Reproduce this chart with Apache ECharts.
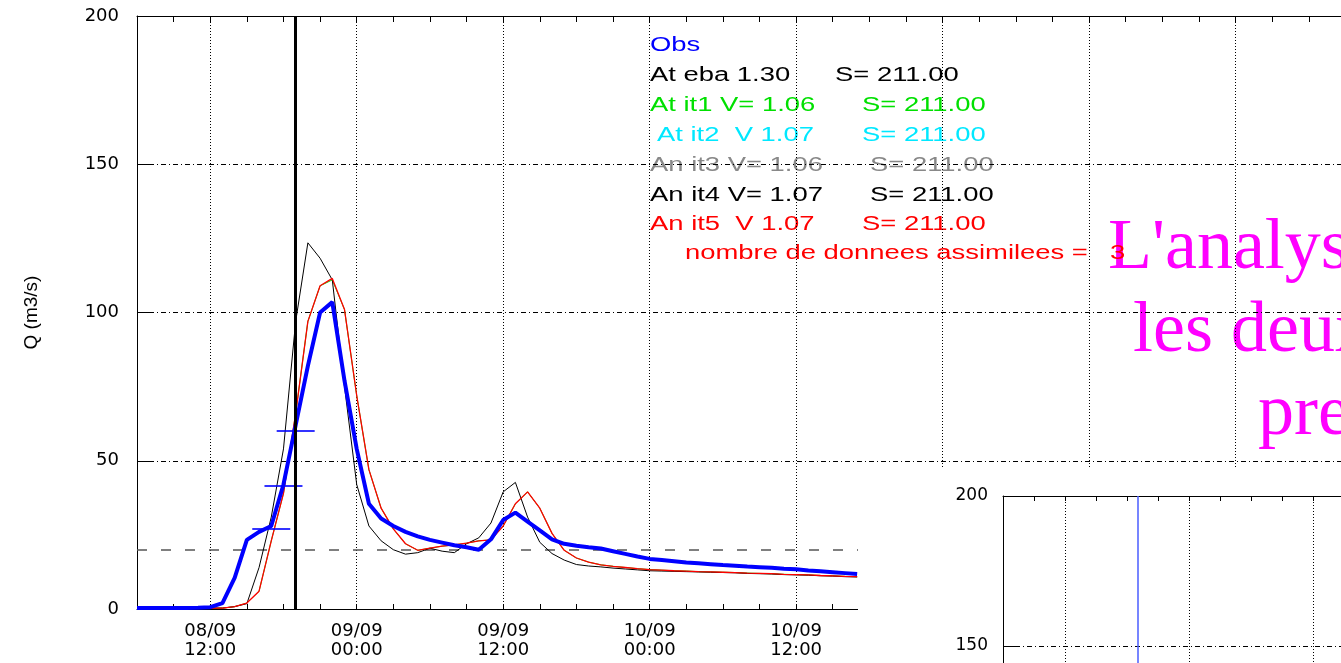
<!DOCTYPE html>
<html><head><meta charset="utf-8">
<script src="https://cdn.jsdelivr.net/npm/echarts@6/dist/echarts.min.js"></script>
<style>html,body{margin:0;padding:0;background:#fff}#c{width:1341px;height:663px}</style>
</head><body><div id="c"></div>
<script>
// hours since 08/09 06:00
const hours = [0,1,2,3,4,5,6,7,8,9,10,11,12,13,14,15,16,17,18,19,20,21,22,23,24,25,26,27,28,29,30,31,32,33,34,35,36,37,38,39,40,41,42,43,44,45,46,47,48,49,50,51,52,53,54,55,56,57,58,59];
const obsValues = [0.3,0.3,0.3,0.3,0.3,0.4,0.6,2.0,10.5,23.3,26.0,28.0,42.0,62.0,82.0,100.0,103.5,77.0,54.0,35.5,30.5,28.0,26.0,24.5,23.3,22.4,21.5,20.8,20.0,23.5,30.0,32.5,29.5,26.5,23.5,22.0,21.3,20.8,20.4,19.5,18.6,17.7,16.9,16.5,16.1,15.7,15.4,15.1,14.8,14.6,14.3,14.1,13.9,13.6,13.4,13.0,12.7,12.4,12.1,11.8];
const atEbaValues = [0.3,0.3,0.3,0.3,0.3,0.3,0.3,0.3,0.8,1.8,14,31,54,97,123.5,118.3,111,75,42,28,23,20,18.5,19,20.5,19.5,19,22,24,29,39.5,42.7,31,22.5,18.7,16.5,15,14.5,14.2,13.8,13.5,13.2,12.9,12.8,12.7,12.6,12.5,12.4,12.3,12.2,12.0,11.9,11.8,11.6,11.5,11.4,11.2,11.1,10.9,10.8];
const atIt1Values = [0.3,0.3,0.3,0.3,0.3,0.3,0.3,0.3,0.8,2.0,6,23,39,66,97,109,111,101,72,47,34,27,22,19.8,20.5,21.2,21.6,22.2,23,23.3,28,35.5,39.5,34,25.5,19.8,17.2,15.8,14.9,14.4,14.0,13.6,13.3,13.1,12.9,12.8,12.6,12.5,12.4,12.3,12.1,12.0,11.9,11.7,11.6,11.5,11.3,11.2,11.0,10.9];
const anIt5Values = [0.3,0.3,0.3,0.3,0.3,0.3,0.3,0.3,0.8,2.0,6,23,39,66,97,109,111.5,101,72,47,34,27,22,19.8,20.5,21.2,21.6,22.2,23,23.3,28,35.5,39.5,34,25.5,19.8,17.2,15.8,14.9,14.4,14.0,13.6,13.3,13.1,12.9,12.8,12.6,12.5,12.4,12.3,12.1,12.0,11.9,11.7,11.6,11.5,11.3,11.2,11.0,10.9];
const assimHours = [11,12,13];
const assimValues = [27,41.5,60];
const analysisHour = 13;
const thresholdValue = 20;
const gridHours = [6,18,30,42,54,66,78,90];
const xTickLabels = ['08/09\n12:00','09/09\n00:00','09/09\n12:00','10/09\n00:00','10/09\n12:00','11/09\n00:00','11/09\n12:00','12/09\n00:00'];
const legendLines = [
  {left:'Obs', right:'', color:'#0000ff', y:45, x:650, sx:0},
  {left:'At eba 1.30', right:'S= 211.00', color:'#000000', y:75, x:650, sx:835},
  {left:'At it1 V= 1.06', right:'S= 211.00', color:'#00e000', y:105, x:650, sx:862},
  {left:'At it2  V 1.07', right:'S= 211.00', color:'#00e8ff', y:135, x:657, sx:862},
  {left:'An it3 V= 1.06', right:'S= 211.00', color:'#888888', y:165, x:650, sx:870},
  {left:'An it4 V= 1.07', right:'S= 211.00', color:'#000000', y:195, x:650, sx:870},
  {left:'An it5  V 1.07', right:'S= 211.00', color:'#ff0000', y:224, x:650, sx:862}
];
const noteText = 'nombre de donnees assimilees =';
const noteCount = '3';
const slideLines = ["L'analyse", 'les deux', 'pre'];

const zip = (xs, ys) => xs.map((x, i) => [x, ys[i]]);
const fmtX = v => { const i = gridHours.indexOf(v); return i >= 0 ? xTickLabels[i] : ''; };
const FS = 'DejaVu Sans';

const graphics = [];
legendLines.forEach(l => {
  graphics.push({type:'text', x:l.x, y:l.y, scaleX:1.37, z:-1, style:{text:l.left, fill:l.color, fontSize:20, fontFamily:'Liberation Sans', verticalAlign:'middle', align:'left'}});
  if (l.right) graphics.push({type:'text', x:l.sx, y:l.y, scaleX:1.37, z:-1, style:{text:l.right, fill:l.color, fontSize:20, fontFamily:'Liberation Sans', verticalAlign:'middle', align:'left'}});
});
graphics.push({type:'text', x:685, y:253, scaleX:1.37, z:-1, style:{text:noteText, fill:'#ff0000', fontSize:20, fontFamily:'Liberation Sans', verticalAlign:'middle', align:'left'}});
graphics.push({type:'text', x:1110, y:253, scaleX:1.37, z:-1, style:{text:noteCount, fill:'#ff0000', fontSize:20, fontFamily:'Liberation Sans', verticalAlign:'middle', align:'left'}});
const slidePos = [[1108,249],[1133,332],[1258,415]];
slideLines.forEach((t, i) => {
  graphics.push({type:'text', x:slidePos[i][0], y:slidePos[i][1], z:-2, style:{text:t, fill:'#ff00ff', fontSize:72, fontFamily:'Liberation Serif', verticalAlign:'middle', align:'left'}});
});
graphics.push({type:'rect', z:8, shape:{x:858, y:469, width:483, height:194}, style:{fill:'#ffffff'}});

const hSplit = {show:true, lineStyle:{color:'#000', width:1, type:[5,3,1,3]}};
const vSplit = {show:true, lineStyle:{color:'#000', width:1, type:[1,2]}};

const chart = echarts.init(document.getElementById('c'), null, {renderer:'canvas'});
chart.setOption({
  animation:false,
  backgroundColor:'#fff',
  grid:[
    {left:137, top:16, width:1245, height:593, outerBoundsMode:'none', containLabel:false},
    {left:1003, top:496, width:1054, height:600, outerBoundsMode:'none', containLabel:false}
  ],
  xAxis:[
    {gridIndex:0, type:'value', min:0, max:102, position:'bottom',
     axisLine:{onZero:false, lineStyle:{color:'#000', width:1}},
     axisTick:{customValues:gridHours, inside:true, length:5, lineStyle:{color:'#000'}},
     axisLabel:{customValues:gridHours, formatter:fmtX, fontFamily:FS, fontSize:18, lineHeight:19, margin:13, color:'#000'},
     splitLine:vSplit},
    {gridIndex:0, type:'value', min:0, max:102, interval:3, position:'bottom',
     axisLine:{show:false, onZero:false}, axisTick:{inside:true, length:5, lineStyle:{color:'#000'}},
     axisLabel:{show:false}, splitLine:{show:false}},
    {gridIndex:0, type:'value', min:0, max:102, interval:3, position:'top',
     axisLine:{show:true, onZero:false, lineStyle:{color:'#000'}}, axisTick:{inside:true, length:6, lineStyle:{color:'#000'}},
     axisLabel:{show:false}, splitLine:{show:false}},
    {gridIndex:1, type:'value', min:0, max:102, position:'bottom', z:10,
     axisLine:{onZero:false, lineStyle:{color:'#000'}},
     axisTick:{customValues:gridHours, inside:true, length:5},
     axisLabel:{show:false}, splitLine:vSplit},
    {gridIndex:1, type:'value', min:0, max:102, interval:3, position:'top', z:10,
     axisLine:{show:true, onZero:false, lineStyle:{color:'#000'}}, axisTick:{inside:true, length:5, lineStyle:{color:'#000'}},
     axisLabel:{show:false}, splitLine:{show:false}}
  ],
  yAxis:[
    {gridIndex:0, type:'value', min:0, max:200, interval:50,
     axisLine:{show:true, lineStyle:{color:'#000', width:1}},
     axisTick:{show:true, inside:true, length:13, lineStyle:{color:'#000'}},
     axisLabel:{fontFamily:FS, fontSize:18, color:'#000', margin:18},
     splitLine:hSplit,
     name:'Q (m3/s)', nameLocation:'middle', nameGap:96,
     nameTextStyle:{fontFamily:'Liberation Sans', fontSize:19, color:'#000'}},
    {gridIndex:1, type:'value', min:0, max:200, interval:50, z:10,
     axisLine:{show:true, lineStyle:{color:'#000', width:1}},
     axisTick:{show:true, inside:true, length:12, lineStyle:{color:'#000'}},
     axisLabel:{fontFamily:FS, fontSize:17, color:'#000', margin:15},
     splitLine:hSplit}
  ],
  graphic:{elements:graphics},
  series:[
    {name:'At it1', type:'line', xAxisIndex:0, yAxisIndex:0, data:zip(hours, atIt1Values), showSymbol:false, z:2,
     lineStyle:{color:'#00dd00', width:1},
     markLine:{silent:true, symbol:'none', z:1, label:{show:false}, data:[{yAxis:thresholdValue}],
       lineStyle:{color:'#555', width:1.5, type:[10,14]}}},
    {name:'At eba', type:'line', xAxisIndex:0, yAxisIndex:0, data:zip(hours, atEbaValues), showSymbol:false, z:2,
     lineStyle:{color:'#000', width:1}},
    {name:'An it5', type:'line', xAxisIndex:0, yAxisIndex:0, data:zip(hours, anIt5Values), showSymbol:false, z:2,
     lineStyle:{color:'#ff0000', width:1.3}},
    {name:'Obs', type:'line', xAxisIndex:0, yAxisIndex:0, data:zip(hours, obsValues), showSymbol:false, z:3,
     lineStyle:{color:'#0000ff', width:4},
     markLine:{silent:true, symbol:'none', z:5, label:{show:false}, data:[{xAxis:analysisHour}],
       lineStyle:{color:'#000', width:3, type:'solid'}}},
    {name:'Assimilated', type:'scatter', xAxisIndex:0, yAxisIndex:0, data:zip(assimHours, assimValues), z:4,
     symbol:'rect', symbolSize:[38,2], itemStyle:{color:'#0000ff'}},
    {name:'Obs (2)', type:'line', xAxisIndex:3, yAxisIndex:1, data:zip(hours, obsValues), z:10, showSymbol:false,
     lineStyle:{color:'#0000ff', width:2},
     markLine:{silent:true, symbol:'none', z:11, label:{show:false}, data:[{xAxis:analysisHour}],
       lineStyle:{color:'#4a5cff', width:1.5, type:'solid'}}}
  ]
});
</script></body></html>
